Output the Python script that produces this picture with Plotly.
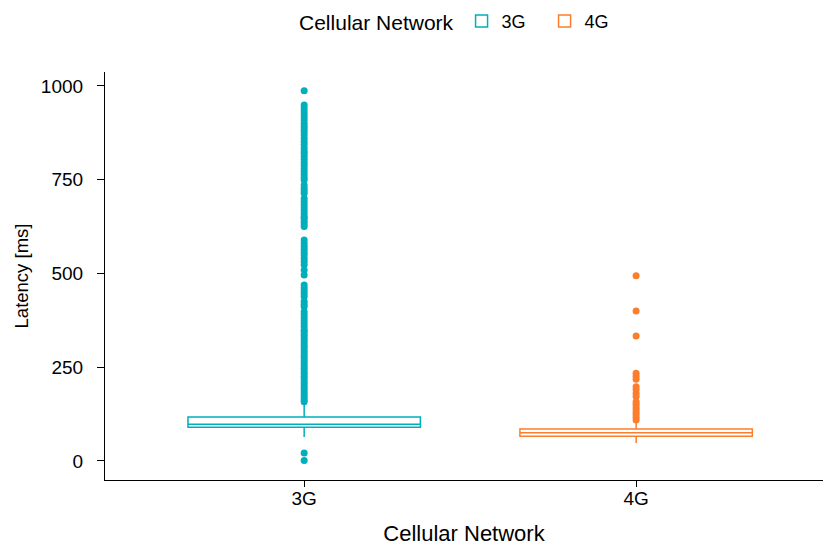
import plotly.graph_objects as go

categories = ["3G", "4G"]
cat_pos = [1, 2]
colors = ["#00AFBB", "#FC7D2C"]

# box statistics [3G, 4G]
q1 = [90, 66]
median = [98, 75]
q3 = [117, 85]
lower_fence = [64, 48]
upper_fence = [150, 106]

outliers_3g = [987, 949, 941, 933, 925, 917, 909, 900, 892, 885, 878, 869, 860, 851, 843,
               834, 825, 820, 812, 804, 796, 788, 779, 771, 763, 755, 749, 736, 727, 720,
               714, 700, 691, 683, 675, 667, 659, 651, 647, 639, 632, 625, 589, 580, 572,
               564, 555, 549, 540, 532, 523, 509, 496, 469, 461, 453, 446, 438, 425, 418,
               411, 398, 390, 382, 374, 366, 358, 349, 345, 338, 331, 324, 317, 310, 303,
               296, 289, 282, 275, 268, 261, 254, 247, 240, 233, 226, 219, 212, 205, 198,
               191, 184, 177, 170, 163, 158, 21, 1]
outliers_4g = [494, 400, 333, 234, 226, 218, 198, 190, 180, 172, 158, 151, 144, 137, 130,
               123, 116, 109]
outliers = [outliers_3g, outliers_4g]

fig = go.Figure()
for i, cat in enumerate(categories):
    fig.add_trace(go.Box(
        x=[cat_pos[i]], q1=[q1[i]], median=[median[i]], q3=[q3[i]],
        lowerfence=[lower_fence[i]], upperfence=[upper_fence[i]],
        name=cat, width=0.7, whiskerwidth=0,
        line=dict(color=colors[i], width=1.5),
        fillcolor="rgba(255,255,255,0)",
        boxpoints=False, legendgroup=cat, showlegend=True,
    ))
    fig.add_trace(go.Scatter(
        x=[cat_pos[i]] * len(outliers[i]), y=outliers[i], mode="markers",
        marker=dict(color=colors[i], size=7),
        legendgroup=cat, showlegend=False, hoverinfo="y",
    ))

font_family = "Liberation Sans, Arial, sans-serif"
fig.update_layout(
    width=823, height=547,
    margin=dict(l=105, r=0, t=72, b=67, autoexpand=False),
    plot_bgcolor="white", paper_bgcolor="white",
    font=dict(family=font_family, color="black", size=16),
    showlegend=True,
    legend=dict(
        orientation="h", x=0.562, xref="container", xanchor="center",
        y=0.995, yanchor="top", yref="container", valign="middle",
        title=dict(text="Cellular Network", font=dict(size=21)),
        font=dict(size=18), entrywidth=38,
    ),
    xaxis=dict(
        range=[0.4, 2.563], tickvals=cat_pos, ticktext=categories,
        showline=True, linecolor="black", linewidth=1.2,
        ticks="outside", ticklen=6, tickcolor="black", tickwidth=1.2,
        ticklabelstandoff=-5,
        showgrid=False, zeroline=False, automargin=False,
        title=dict(text="Cellular Network", font=dict(size=22), standoff=17),
        tickfont=dict(size=19),
    ),
    yaxis=dict(
        range=[-50.7, 1037], tickvals=[0, 250, 500, 750, 1000],
        showline=True, linecolor="black", linewidth=1.2,
        ticks="outside", ticklen=7, tickcolor="black", tickwidth=1.2,
        ticklabelstandoff=10,
        showgrid=False, zeroline=False, automargin=False,
        title=dict(text="Latency [ms]", font=dict(size=18.5), standoff=7),
        tickfont=dict(size=19),
    ),
)

fig.write_html(
    "out.html",
    config={"displayModeBar": False},
    post_script="document.body.style.margin='0';document.body.style.overflow='hidden';",
)
